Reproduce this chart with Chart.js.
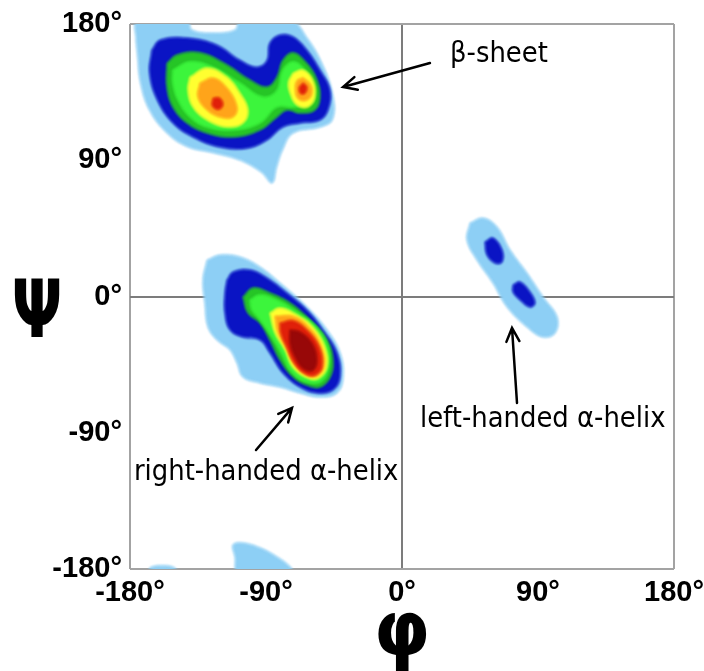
<!DOCTYPE html>
<html>
<head>
<meta charset="utf-8">
<script src="https://cdn.jsdelivr.net/npm/chart.js@4.4.1/dist/chart.umd.min.js"></script>
<style>
  html, body { margin: 0; padding: 0; background: #fff; }
  #wrap { width: 704px; height: 671px; }
</style>
</head>
<body>
<div id="wrap"><canvas id="rama"></canvas></div>
<script>
// axes
const tickValues = [-180, -90, 0, 90, 180];

// contour polygons, [phi, psi] in degrees
// beta-sheet region
const betaLightBlue = [[-176, 169], [-175, 182], [-142, 182], [-139, 176], [-125, 174], [-110.5, 176], [-107, 182], [-73, 182], [-63, 171], [-54, 156], [-46, 134], [-46, 117], [-54, 112], [-72, 108], [-79, 97], [-83, 85.5], [-86, 75], [-93, 82], [-107, 90], [-125, 95], [-142, 99], [-155.5, 108], [-167, 123], [-173, 141], [-175, 159.5]];
const betaBlue = [[-165.5, 162.8], [-160, 169.4], [-142.3, 170.7], [-122.4, 166], [-107.2, 156], [-96, 151.5], [-89.3, 156], [-87.4, 167.4], [-80.7, 172.7], [-72, 171.4], [-63, 162.8], [-54.3, 149.6], [-47.6, 136.3], [-49, 123.2], [-54.3, 116.6], [-67.5, 114.6], [-78.8, 112], [-89.3, 103.4], [-102.6, 98], [-120.4, 98.7], [-138.3, 105.4], [-151.6, 114.6], [-162, 130], [-167, 147.6]];
const betaGreen = [[-155.5, 154], [-149, 159.5], [-133.7, 161], [-115.8, 153], [-100.6, 143], [-89.3, 138.4], [-82.7, 145], [-78.8, 156], [-72, 161], [-63, 154], [-56.3, 143], [-54.3, 131.8], [-57.6, 123.2], [-67.5, 121.2], [-76, 123.2], [-82.7, 118.6], [-94, 110], [-111.8, 105.4], [-129, 108], [-142.3, 114.6], [-151.6, 125.2], [-155.5, 138.4]];
const betaLime = [[-151.6, 149.6], [-140.3, 155], [-125, 151.5], [-107.2, 141], [-92, 131.8], [-82.7, 136.3], [-78.8, 149.6], [-72, 155], [-64.2, 149.6], [-59, 138.4], [-59.6, 127.8], [-72, 125.2], [-82.7, 125.2], [-94, 114.6], [-111.8, 110], [-129, 112], [-140.3, 118.6], [-148.2, 129.8], [-151.6, 141]];
const betaYellowL = [[-140.3, 145], [-129, 151], [-115.8, 145], [-107.2, 134.3], [-102, 123.2], [-105.2, 114.6], [-115.8, 112], [-129, 116.6], [-138.3, 125.2], [-141.6, 136.3]];
const betaOrangeL = [[-133.7, 141], [-125, 144.3], [-115.8, 137.7], [-109.2, 125.2], [-111.8, 118.6], [-120.4, 118.6], [-129, 123.2], [-135, 131.8]];
const betaRedL = [[-125, 131], [-120.5, 131], [-118.5, 126.5], [-121.5, 123.5], [-125.5, 126]];
const betaYellowR = [[-72, 147.6], [-65.5, 149.6], [-59, 143], [-57.6, 131.8], [-62.2, 125.2], [-69.5, 126.5], [-74, 134.3], [-75, 141.7]];
const betaOrangeR = [[-65.5, 144.5], [-60.5, 140], [-60, 133], [-64, 129.5], [-69, 131], [-70.5, 137], [-69.5, 142.5]];
const betaRedR = [[-65.5, 141], [-63, 138.5], [-64, 134.5], [-67, 134], [-68, 138]];
// right-handed alpha-helix region
const alphaRLightBlue = [[-129, 24], [-120.4, 27.4], [-107.2, 26.1], [-94, 19.5], [-80.7, 8.9], [-62.9, -6.9], [-49.6, -22.1], [-41, -37.3], [-39, -53.2], [-43, -63.7], [-54.3, -66.4], [-67.5, -63.7], [-80.7, -59.8], [-94, -57.1], [-105.2, -53.2], [-109.2, -43.9], [-113.8, -35.3], [-122.4, -28.7], [-128.4, -20.1], [-130.4, -4.3], [-131.7, 10.9]];
const alphaRBlue = [[-115.8, 10.9], [-111.8, 16.2], [-100.6, 17.5], [-89.3, 12.2], [-76.1, 2.3], [-62.9, -8.9], [-52.3, -22.1], [-43, -37.3], [-41, -53.2], [-45.7, -61.8], [-56.3, -63.7], [-67.5, -59.8], [-78.8, -50.5], [-87.4, -37.3], [-94, -28.7], [-105.2, -26.8], [-113.8, -22.1], [-117.1, -10.9], [-117.1, 2.3]];
const alphaRGreen = [[-105.2, -0.3], [-98.6, 5.6], [-87.4, 2.3], [-74.1, -4.3], [-60.9, -15.5], [-49.6, -28.7], [-45.7, -41.9], [-47.6, -53.2], [-54.3, -59.8], [-62.9, -58.5], [-72.1, -53.2], [-80.7, -41.9], [-87.4, -28.7], [-94, -17.5], [-101.9, -10.9]];
const alphaRLime = [[-100.6, -2.3], [-94, 1], [-82.7, -2.3], [-69.5, -10.2], [-56.3, -20.1], [-49, -33.4], [-48.5, -46.6], [-53.5, -56], [-63, -56.5], [-73, -50], [-79.5, -38], [-86, -27], [-94, -15.5], [-99.3, -8.9]];
const alphaRYellow = [[-87.4, -10.9], [-80.7, -7.6], [-69.5, -12.2], [-58.9, -20.1], [-51, -33.4], [-49.6, -46.6], [-55, -54], [-62, -54], [-72, -47], [-77.4, -35.3], [-84, -24]];
const alphaROrange = [[-84, -13], [-71, -13.5], [-60, -22], [-53, -34], [-51.5, -46], [-56, -52.5], [-63, -52], [-71, -45], [-76, -35], [-82, -24]];
const alphaRRed = [[-80.7, -17.5], [-72, -16], [-62.9, -22.1], [-54.8, -33.4], [-53, -46.6], [-57.6, -52], [-64.5, -50.8], [-71.5, -43.9], [-76.4, -33.4], [-80.2, -24.1]];
const alphaRDarkRed = [[-74.1, -22.1], [-67.5, -23.4], [-59.6, -30.7], [-56.3, -41.9], [-59, -48.9], [-65.5, -47.5], [-70.8, -40], [-74.1, -30.7]];
// left-handed alpha-helix region
const alphaLLightBlue = [[45, 48.5], [53.6, 51.8], [62.9, 45.9], [71.5, 30.7], [82.7, 15.5], [93.3, -0.3], [102.6, -13.5], [101.3, -24.1], [93.3, -26.8], [82.7, -20.1], [69.5, -6.9], [60.2, 8.9], [49.6, 24.1], [43, 37.3]];
const alphaLBlueTop = [[54.9, 36], [60.2, 38.6], [66.2, 30.7], [66.2, 22.8], [61.5, 22.1], [56.3, 27.4]];
const alphaLBlueLow = [[73.5, 7.6], [78.1, 9.6], [84.7, 3], [88, -4.3], [84.7, -7], [78.1, -2.3], [73.5, 3]];
// wrap-around patches at psi = -180
const wrapLightBlue = [[-110.5, -172], [-111.8, -164], [-105.2, -162.8], [-94, -166], [-82.7, -172], [-74, -178.5], [-72.8, -182], [-108.5, -182]];
const wrapLightBlueSmall = [[-168, -182], [-166, -178.8], [-158, -177.8], [-151, -179], [-149, -182]];

// annotations: text, phi, psi of text start (baseline)
const labelTexts = ["β-sheet", "left-handed α-helix", "right-handed α-helix"];
const labelPhi = [31.8, 11.9, -177.4];
const labelPsi = [154.9, -86.2, -121.2];
// arrows: [phi, psi] tail -> tip
const arrowTails = [[18.5, 154.2], [76.1, -70.3], [-96.6, -101.4]];
const arrowTips = [[-39, 138.4], [72.8, -20.8], [-72.8, -73.6]];

const lightBlue = "#8dcff5";
const blue = "#0a14c4";
const green = "#26c526";
const lime = "#3cf53c";
const yellow = "#ffff30";
const orange = "#ffa41a";
const red = "#e0200a";
const darkRed = "#980808";

const layers = [
  [betaLightBlue, lightBlue], [alphaRLightBlue, lightBlue], [alphaLLightBlue, lightBlue],
  [wrapLightBlue, lightBlue], [wrapLightBlueSmall, lightBlue],
  [betaBlue, blue], [alphaRBlue, blue], [alphaLBlueTop, blue], [alphaLBlueLow, blue],
  [betaGreen, green], [alphaRGreen, green],
  [betaLime, lime], [alphaRLime, lime],
  [betaYellowL, yellow], [betaYellowR, yellow], [alphaRYellow, yellow],
  [betaOrangeL, orange], [betaOrangeR, orange], [alphaROrange, orange],
  [betaRedL, red], [betaRedR, red], [alphaRRed, red],
  [alphaRDarkRed, darkRed]
];

const datasets = layers.map(([pts, col], i) => {
  const closed = pts.concat([pts[0]]);
  return {
    data: closed.map((p) => ({ x: p[0], y: p[1] })),
    backgroundColor: col,
    borderColor: col,
    borderWidth: 1,
    pointRadius: 0,
    tension: 0.4,
    fill: "shape",
    order: layers.length - i,
  };
});

const gridColor = (c) => {
  const v = c.tick.value;
  if (v === 0) return "#7c7c7c";
  if (v === 180 || v === -180) return "#a3a3a3";
  return "rgba(0,0,0,0)";
};

const tickFont = {
  family: "'Liberation Sans', Arial, sans-serif",
  size: 29,
  weight: "bold",
};

const softEdges = {
  id: "softEdges",
  beforeDatasetsDraw(chart) {
    chart.ctx.save();
    chart.ctx.filter = "blur(1.2px)";
  },
  afterDatasetsDraw(chart) {
    chart.ctx.restore();
  },
};

const overlay = {
  id: "overlay",
  afterDraw(chart) {
    const ctx = chart.ctx;
    const xs = chart.scales.x;
    const ys = chart.scales.y;
    const area = chart.chartArea;
    ctx.save();
    ctx.fillStyle = "#000";
    ctx.strokeStyle = "#000";

    // axis symbols
    ctx.font = "bold 80px 'DejaVu Sans'";
    ctx.textAlign = "center";
    ctx.textBaseline = "alphabetic";
    ctx.save();
    ctx.translate(area.left - 93, ys.getPixelForValue(0) + 40);
    ctx.scale(0.75, 1);
    ctx.fillText("Ψ", 0, 0);
    ctx.restore();

    ctx.font = "bold 76px 'DejaVu Sans'";
    ctx.save();
    ctx.translate(xs.getPixelForValue(0), area.bottom + 86);
    ctx.scale(0.95, 1);
    ctx.fillText("φ", 0, 0);
    ctx.restore();

    // labels
    ctx.font = "28px 'DejaVu Sans'";
    ctx.textAlign = "left";
    labelTexts.forEach((t, i) => {
      ctx.save();
      ctx.translate(xs.getPixelForValue(labelPhi[i]), ys.getPixelForValue(labelPsi[i]));
      ctx.scale(0.925, 1);
      ctx.fillText(t, 0, 0);
      ctx.restore();
    });

    // arrows
    ctx.lineWidth = 2.5;
    ctx.lineCap = "round";
    arrowTails.forEach((tail, i) => {
      const x0 = xs.getPixelForValue(tail[0]);
      const y0 = ys.getPixelForValue(tail[1]);
      const x1 = xs.getPixelForValue(arrowTips[i][0]);
      const y1 = ys.getPixelForValue(arrowTips[i][1]);
      const a = Math.atan2(y1 - y0, x1 - x0);
      ctx.beginPath();
      ctx.moveTo(x0, y0);
      ctx.lineTo(x1, y1);
      ctx.moveTo(x1 - 15 * Math.cos(a - 0.45), y1 - 15 * Math.sin(a - 0.45));
      ctx.lineTo(x1, y1);
      ctx.lineTo(x1 - 15 * Math.cos(a + 0.45), y1 - 15 * Math.sin(a + 0.45));
      ctx.stroke();
    });
    ctx.restore();
  },
};

new Chart(document.getElementById("rama").getContext("2d"), {
  type: "line",
  data: { datasets: datasets },
  options: {
    responsive: true,
    maintainAspectRatio: false,
    animation: false,
    layout: { padding: { top: 24, right: 30, left: 0, bottom: 0 } },
    plugins: { legend: { display: false }, tooltip: { enabled: false } },
    scales: {
      x: {
        type: "linear",
        min: -180,
        max: 180,
        z: 1,
        afterBuildTicks: (s) => { s.ticks = tickValues.map((v) => ({ value: v })); },
        afterFit: (s) => { s.height = 102; s.paddingLeft = 0; s.paddingRight = 0; },
        border: { display: false },
        grid: { color: gridColor, lineWidth: 2, drawTicks: false },
        ticks: { font: tickFont, color: "#000", padding: 7, maxRotation: 0, callback: (v) => v + "°" },
      },
      y: {
        type: "linear",
        min: -180,
        max: 180,
        z: 1,
        afterBuildTicks: (s) => { s.ticks = tickValues.map((v) => ({ value: v })); },
        afterFit: (s) => { s.width = 130; s.paddingTop = 0; s.paddingBottom = 0; },
        border: { display: false },
        grid: { color: gridColor, lineWidth: 2, drawTicks: false },
        ticks: { font: tickFont, color: "#000", padding: 8, callback: (v) => v + "°" },
      },
    },
  },
  plugins: [softEdges, overlay],
});
</script>
</body>
</html>
